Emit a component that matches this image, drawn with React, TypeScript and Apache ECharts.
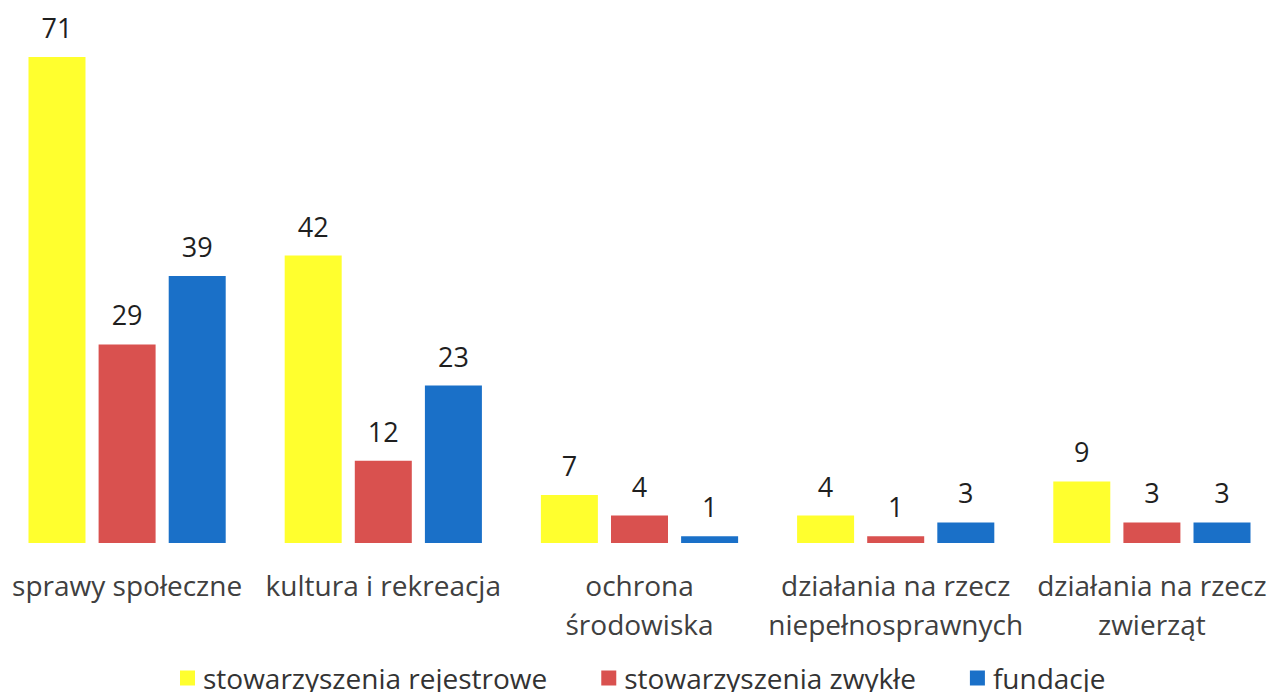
import React, { useEffect, useRef } from "react";
import * as echarts from "echarts";

const categories = [
  "sprawy społeczne",
  "kultura i rekreacja",
  "ochrona\nśrodowiska",
  "działania na rzecz\nniepełnosprawnych",
  "działania na rzecz\nzwierząt",
];
const seriesNames = ["stowarzyszenia rejestrowe", "stowarzyszenia zwykłe", "fundacje"];
const rejestrowe = [71, 42, 7, 4, 9];
const zwykle = [29, 12, 4, 1, 3];
const fundacje = [39, 23, 1, 3, 3];
const colors = ["#FFFF2E", "#D9514F", "#1A70C8"];

const FONT = "'Open Sans', 'Noto Sans', sans-serif";

export default function App() {
  const ref = useRef<HTMLDivElement>(null);
  useEffect(() => {
    if (!ref.current) return;
    const chart = echarts.init(ref.current, undefined, { renderer: "svg" });
    const data = [rejestrowe, zwykle, fundacje];
    chart.setOption({
      animation: false,
      backgroundColor: "#ffffff",
      textStyle: { fontFamily: FONT },
      grid: { left: 0, right: 0, top: 57, bottom: 149, containLabel: false },
      legend: {
        top: 664,
        left: 181,
        padding: 0,
        itemWidth: 15,
        itemHeight: 15,
        itemGap: 54,
        icon: "rect",
        textStyle: {
          fontSize: 28,
          lineHeight: 28,
          color: "#333333",
          fontFamily: FONT,
          padding: [0, 0, 0, 3],
        },
        data: seriesNames,
      },
      xAxis: {
        type: "category",
        data: categories,
        axisLine: { show: false },
        axisTick: { show: false },
        axisLabel: {
          interval: 0,
          fontSize: 28,
          color: "#404040",
          lineHeight: 39,
          margin: 22,
          fontFamily: FONT,
        },
      },
      yAxis: {
        type: "value",
        min: 0,
        max: 71,
        show: false,
        splitLine: { show: false },
      },
      series: data.map((d, i) => ({
        name: seriesNames[i],
        type: "bar",
        data: d,
        barWidth: 57,
        barGap: "23%",
        itemStyle: { color: colors[i] },
        label: {
          show: true,
          position: "top",
          distance: 16,
          fontSize: 27,
          color: "#1f1f1f",
          fontFamily: FONT,
        },
      })),
    });
    return () => chart.dispose();
  }, []);
  return (
    <div
      ref={ref}
      style={{ position: "fixed", left: -1, top: 0, width: 1281, height: 692, background: "#fff" }}
    />
  );
}
